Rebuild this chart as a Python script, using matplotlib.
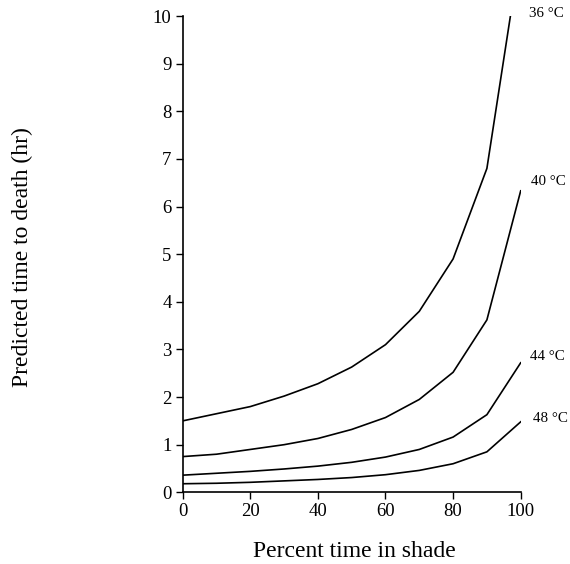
import matplotlib
matplotlib.use("Agg")
import matplotlib.pyplot as plt

shade = [0, 10, 20, 30, 40, 50, 60, 70, 80, 90, 100]
t36 = [1.5, 1.65, 1.8, 2.02, 2.28, 2.63, 3.1, 3.8, 4.9, 6.8, 11.4]
t40 = [0.75, 0.8, 0.9, 1.0, 1.13, 1.32, 1.57, 1.95, 2.52, 3.62, 6.33]
t44 = [0.36, 0.4, 0.44, 0.49, 0.55, 0.63, 0.74, 0.9, 1.16, 1.63, 2.72]
t48 = [0.18, 0.19, 0.21, 0.24, 0.27, 0.31, 0.37, 0.46, 0.6, 0.85, 1.48]
series = [("36 °C", t36), ("40 °C", t40), ("44 °C", t44), ("48 °C", t48)]
label_pos = {"36 °C": (102.5, 10.05), "40 °C": (103.0, 6.52), "44 °C": (102.8, 2.86), "48 °C": (103.5, 1.55)}
xticks = [0, 20, 40, 60, 80, 100]
yticks = list(range(0, 11))

plt.rcParams['font.family'] = ['Liberation Serif', 'DejaVu Serif']

fig = plt.figure(figsize=(5.7, 5.64), dpi=100)
ax = fig.add_axes([0.3205, 0.1271, 0.593, 0.8445])

for name, vals in series:
    ax.plot(shade, vals, color='black', linewidth=1.2)
    lx, ly = label_pos[name]
    ax.text(lx, ly, name, fontsize=10.8, ha='left', va='center', clip_on=False)

ax.set_xlim(0, 100)
ax.set_ylim(0, 10)
ax.set_xticks(xticks)
ax.set_yticks(yticks)
ax.tick_params(direction='out', length=5, width=1, labelsize=13.5, pad=3)
for s in ['top', 'right']:
    ax.spines[s].set_visible(False)
for s in ['left', 'bottom']:
    ax.spines[s].set_linewidth(1.2)

fig.text(0.621, 0.023, "Percent time in shade", fontsize=17, ha='center', va='center')
fig.text(0.040, 0.544, "Predicted time to death (hr)", rotation=90, fontsize=17,
         ha='center', va='center')

fig.savefig("out.png", dpi=100)
